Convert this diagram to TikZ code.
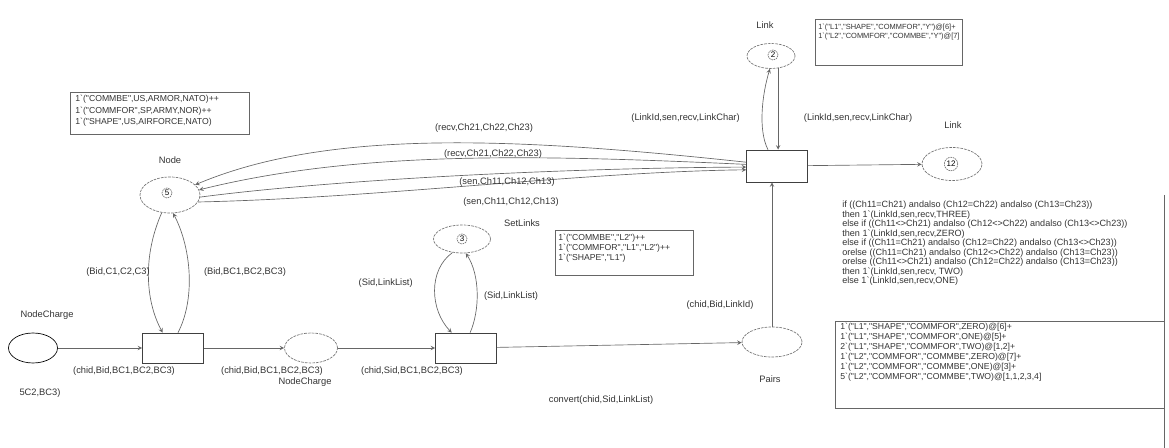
\documentclass[tikz,border=0pt]{standalone}
\usepackage{fontspec}
\setmainfont{Liberation Sans}[Ligatures=TeXOff]
\usetikzlibrary{shapes.geometric}

\begin{document}
\begin{tikzpicture}[x=0.75pt, y=-0.75pt, >=stealth, line width=0.5pt,
    lbl/.style={font=\fontsize{7}{8}\selectfont, text=black!80, inner sep=0pt},
    boxtxt/.style={text=black!80, inner sep=0pt, align=left, anchor=north west},
    place/.style={ellipse, draw=black!55, dash pattern=on 2pt off 0.8pt, inner sep=0pt},
    trans/.style={rectangle, draw=black!75, minimum width=45.75pt, minimum height=22.5pt, inner sep=0pt},
    token/.style={circle, draw=black!55, dash pattern=on 1.2pt off 0.6pt, inner sep=0.8pt, font=\fontsize{6}{7}\selectfont},
    arc/.style={draw=black!60, ->}]
  \useasboundingbox (0,0) rectangle (1169,448);

  % places
  \node[place, minimum width=45pt, minimum height=27pt] (node) at (170,195) {};
  \node[token] (nodeTok) at (167,193) {5};
  \node[place, draw=black, solid, minimum width=36.75pt, minimum height=22.5pt] (ncIn) at (33,348) {};
  \node[place, minimum width=39.75pt, minimum height=22.5pt] (ncMid) at (311,348) {};
  \node[place, minimum width=42.75pt, minimum height=21pt] (setL) at (462,239) {};
  \node[token] (setTok) at (462,239) {3};
  \node[place, minimum width=45pt, minimum height=22.5pt] (pairs) at (772,342) {};
  \node[place, minimum width=36pt, minimum height=18.75pt] (linkT) at (771,56) {};
  \node[token] (linkTTok) at (773,55) {2};
  \node[place, minimum width=45pt, minimum height=24.75pt] (linkR) at (952,164) {};
  \node[token] (linkRTok) at (951,164) {12};

  % transitions
  \node[trans] (tIn) at (173,348) {};
  \node[trans] (tSet) at (466,348) {};
  \node[trans, minimum height=24pt] (tLink) at (777,166) {};

  % arcs
  \draw[arc] (ncIn) -- (tIn);
  \draw[arc] (tIn) -- (ncMid);
  \draw[arc] (ncMid) -- (tSet);
  \draw[arc] (tSet) -- (pairs);
  \draw[arc] (pairs.north) -- (pairs.north |- tLink.south);
  \draw[arc] (tLink) -- (linkR);
  \draw[arc] (linkT.-60) -- (linkT.-60 |- tLink.north);
  \draw[arc] (tLink.119) .. controls (758,130) and (762,95) .. (linkT.-95);
  \draw[arc] (node.-115) .. controls (143,255) and (145,300) .. (tIn.124);
  \draw[arc] (tIn.72) .. controls (195,300) and (192,250) .. (node.-80);
  \draw[arc] (setL.-125) .. controls (428,270) and (430,310) .. (tSet.133);
  \draw[arc] (tSet.75) .. controls (480,310) and (480,275) .. (setL.-75);
  \draw[arc] (tLink.173) .. controls (520,138) and (330,128) .. (node.22);
  \draw[arc] (tLink.177) .. controls (540,155) and (360,150) .. (node.10);
  \draw[arc] (node.-4) .. controls (330,180) and (560,168) .. (tLink.182);
  \draw[arc] (node.-14) .. controls (380,198) and (580,172) .. (tLink.187);

  % names and inscriptions
  \node[lbl] (lNode) at (170,160) {Node};
  \node[lbl] (lNC1) at (47,315) {NodeCharge};
  \node[lbl] (lNC2) at (305,382) {NodeCharge};
  \node[lbl] (lFrag) at (40,393) {5C2,BC3)};
  \node[lbl] (lSet) at (522,223) {SetLinks};
  \node[lbl] (lPairs) at (770,379) {Pairs};
  \node[lbl] (lLinkT) at (765,25) {Link};
  \node[lbl] (lLinkR) at (953,125) {Link};
  \node[lbl, anchor=east] (lBidC) at (150,272) {(Bid,C1,C2,C3)};
  \node[lbl] (lBidBC) at (245,272) {(Bid,BC1,BC2,BC3)};
  \node[lbl] (lArc1) at (124,371) {(chid,Bid,BC1,BC2,BC3)};
  \node[lbl] (lArc2) at (272,371) {(chid,Bid,BC1,BC2,BC3)};
  \node[lbl] (lArc3) at (412,371) {(chid,Sid,BC1,BC2,BC3)};
  \node[lbl, anchor=east] (lSid1) at (413,283) {(Sid,LinkList)};
  \node[lbl] (lSid2) at (511,296) {(Sid,LinkList)};
  \node[lbl] (lConv) at (601,400) {convert(chid,Sid,LinkList)};
  \node[lbl] (lPid) at (720,305) {(chid,Bid,LinkId)};
  \node[lbl, anchor=east] (lLc1) at (740,118) {(LinkId,sen,recv,LinkChar)};
  \node[lbl] (lLc2) at (858,118) {(LinkId,sen,recv,LinkChar)};
  \node[lbl] (lRecv1) at (484,128) {(recv,Ch21,Ch22,Ch23)};
  \node[lbl] (lRecv2) at (493,154) {(recv,Ch21,Ch22,Ch23)};
  \node[lbl] (lSen1) at (507,182) {(sen,Ch11,Ch12,Ch13)};
  \node[lbl] (lSen2) at (511,202) {(sen,Ch11,Ch12,Ch13)};

  % initial markings and guard
  \draw[black!60] (70,92) rectangle (249,134);
  \node[boxtxt, font=\fontsize{6.5}{8.6}\selectfont] (mNode) at (75,95)
    {1`("COMMBE",US,ARMOR,NATO)++\\1`("COMMFOR",SP,ARMY,NOR)++\\1`("SHAPE",US,AIRFORCE,NATO)};
  \draw[black!60] (815,19) rectangle (962,65);
  \node[boxtxt, font=\fontsize{5.6}{6.75}\selectfont] (mLink) at (818,24)
    {1`("L1","SHAPE","COMMFOR","Y")@[6]+\\1`("L2","COMMFOR","COMMBE","Y")@[7]};
  \draw[black!60] (555,230) rectangle (693,275);
  \node[boxtxt, font=\fontsize{6.5}{7.5}\selectfont] (mSet) at (558,234)
    {1`("COMMBE","L2")++\\1`("COMMFOR","L1","L2")++\\1`("SHAPE","L1")};
  \draw[black!60] (835,321) rectangle (1164,408);
  \draw[black!60] (1164,195) -- (1164,448);
  \node[boxtxt, font=\fontsize{6.5}{7.5}\selectfont] (mPairs) at (840,323)
    {1`("L1","SHAPE","COMMFOR",ZERO)@[6]+\\1`("L1","SHAPE","COMMFOR",ONE)@[5]+\\
     2`("L1","SHAPE","COMMFOR",TWO)@[1,2]+\\1`("L2","COMMFOR","COMMBE",ZERO)@[7]+\\
     1`("L2","COMMFOR","COMMBE",ONE)@[3]+\\5`("L2","COMMFOR","COMMBE",TWO)@[1,1,2,3,4]};
  \node[boxtxt, font=\fontsize{6.8}{7.1}\selectfont] (guard) at (842,201)
    {if ((Ch11=Ch21) andalso (Ch12=Ch22) andalso (Ch13=Ch23))\\
     then 1`(LinkId,sen,recv,THREE)\\
     else if ((Ch11<>Ch21)  andalso (Ch12<>Ch22) andalso (Ch13<>Ch23))\\
     then  1`(LinkId,sen,recv,ZERO)\\
     else if ((Ch11=Ch21) andalso (Ch12=Ch22) andalso (Ch13<>Ch23))\\
     orelse ((Ch11=Ch21) andalso (Ch12<>Ch22) andalso (Ch13=Ch23))\\
     orelse ((Ch11<>Ch21) andalso (Ch12=Ch22) andalso (Ch13=Ch23))\\
     then 1`(LinkId,sen,recv, TWO)\\
     else 1`(LinkId,sen,recv,ONE)};
\end{tikzpicture}
\end{document}
